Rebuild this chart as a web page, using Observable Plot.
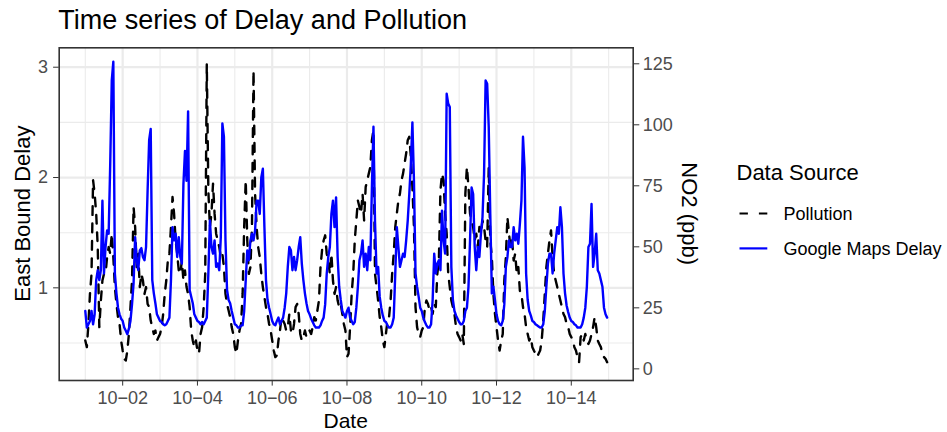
<!DOCTYPE html>
<html><head><meta charset="utf-8">
<script src="https://cdn.jsdelivr.net/npm/d3@7"></script>
<script src="https://cdn.jsdelivr.net/npm/@observablehq/plot@0.6"></script>
<style>
body{margin:0;background:#fff;}
#chart{position:relative;width:947px;height:432px;overflow:hidden;}
#chart svg{position:absolute;left:0;top:0;}
</style>
</head><body><div id="chart"></div>
<script>
// ---------- data ----------
const titleText = "Time series of Delay and Pollution";
const xTitle = "Date";
const yTitle = "East Bound Delay";
const y2Title = "NO2 (ppb)";
const legendTitle = "Data Source";
const seriesNames = ["Pollution", "Google Maps Delay"];
const startTime = "2018-10-01T00:00Z"; // hourly readings
// Google Maps delay, hourly, 10-01 .. 10-14
const delayValues = [
 0.79,0.64,0.67,0.70,0.79,0.67,0.76,1.07,1.16,1.07,1.16,1.79,1.13,1.37,1.52,1.49,2.12,2.88,3.05,1.13,0.95,0.82,0.76,0.72,
 0.70,0.64,0.61,0.58,0.63,0.70,0.85,1.04,1.46,1.25,1.16,1.34,1.36,1.28,1.25,1.37,1.88,2.34,2.44,1.07,0.95,0.86,0.76,0.73,
 0.70,0.69,0.67,0.66,0.67,0.70,0.73,1.07,1.55,1.43,1.49,1.28,1.46,1.28,1.22,1.94,2.24,1.97,2.60,0.98,0.92,0.86,0.76,0.73,
 0.70,0.69,0.67,0.69,0.67,0.70,0.73,1.13,1.61,1.37,1.31,1.43,1.19,1.22,1.16,1.46,2.49,2.37,1.43,0.98,0.89,0.86,0.79,0.73,
 0.67,0.66,0.64,0.64,0.66,0.66,0.79,1.07,1.34,1.25,1.43,1.49,1.43,1.52,1.79,1.79,1.67,2.00,2.08,1.55,1.07,0.89,0.82,0.76,
 0.70,0.67,0.66,0.70,0.73,0.67,0.70,0.73,0.82,0.95,1.19,1.37,1.34,1.16,1.28,1.16,1.25,1.37,1.46,1.22,1.07,0.95,0.86,0.79,
 0.76,0.72,0.69,0.66,0.64,0.64,0.64,0.66,0.70,0.73,0.85,1.13,1.28,1.37,1.67,1.79,1.55,1.82,1.28,1.01,0.89,0.79,0.76,0.73,
 0.79,0.82,0.73,0.70,0.67,0.69,0.82,1.01,1.25,1.31,1.43,1.19,1.31,1.16,1.37,1.25,1.91,2.46,1.60,1.13,1.19,0.92,0.82,0.75,
 0.70,0.69,0.66,0.64,0.64,0.67,0.73,1.13,1.55,1.37,1.19,1.25,1.31,1.28,1.43,1.61,1.85,2.12,2.50,1.97,1.13,1.01,0.92,0.82,
 0.79,0.73,0.69,0.66,0.64,0.64,0.67,0.89,1.31,1.13,1.22,1.25,1.16,1.70,1.43,1.31,2.76,2.67,2.64,1.19,0.89,0.79,0.75,0.72,
 0.69,0.67,0.67,0.70,0.79,0.82,1.01,1.43,1.91,1.85,1.37,1.16,1.37,1.28,1.49,1.64,2.03,2.88,2.85,2.46,1.67,0.95,1.01,0.89,
 0.76,0.70,0.67,0.66,0.70,0.85,1.19,1.28,1.43,1.37,1.37,1.55,1.43,1.49,1.40,1.58,1.79,2.37,2.09,1.13,0.89,0.79,0.75,0.70,
 0.69,0.67,0.66,0.65,0.64,0.64,0.67,0.79,1.01,1.22,1.31,1.31,1.13,1.31,1.43,1.55,1.49,1.73,1.55,1.13,0.95,0.84,0.78,0.73,
 0.70,0.69,0.67,0.66,0.64,0.64,0.64,0.67,0.73,0.82,1.01,1.37,1.40,1.76,1.19,1.31,1.49,1.16,1.13,1.07,1.01,0.82,0.76,0.73
];
// NO2 pollution (ppb), hourly, 10-01 .. 10-14
const no2Values = [
 11.6,8.9,18.4,30.7,38.9,77.3,71.8,63.6,49.9,17.1,28.0,36.2,38.9,38.9,45.8,49.9,47.2,55.4,45.8,33.5,26.6,21.2,18.4,11.6,
 7.5,4.1,3.4,7.5,14.3,25.3,36.2,66.3,58.1,41.7,47.2,33.5,38.9,36.2,30.7,33.5,26.6,25.3,19.8,17.1,14.3,15.7,11.6,13.0,
 14.3,17.1,22.5,30.7,36.2,44.4,47.2,58.1,70.4,63.6,52.6,47.2,40.3,38.9,44.4,36.2,40.3,33.5,30.7,25.3,15.7,11.6,8.9,11.6,
 7.5,6.2,14.3,17.1,25.3,38.9,125.0,73.1,58.1,63.6,75.9,63.6,55.4,52.6,49.9,45.8,47.2,41.7,30.7,26.6,23.9,21.2,17.1,14.3,
 8.9,6.2,11.6,15.7,18.4,30.7,58.1,77.3,52.6,38.9,41.7,58.1,122.3,71.8,58.1,49.9,45.8,38.9,33.5,29.4,25.3,22.5,18.4,15.7,
 11.6,7.5,4.8,5.5,11.6,15.7,21.2,19.8,18.4,15.7,17.1,22.5,15.7,14.3,18.4,25.3,26.6,22.5,14.3,11.6,13.0,15.7,13.0,14.3,
 15.7,14.3,17.1,21.2,19.8,23.9,28.0,41.7,48.6,52.6,54.7,47.2,44.4,38.9,47.2,36.2,30.7,33.5,28.0,25.3,26.6,22.5,18.4,15.7,
 4.8,6.2,17.1,30.7,38.9,52.6,60.8,69.0,66.3,63.6,71.8,60.8,74.5,77.3,80.0,82.8,93.7,97.8,38.9,33.5,28.0,21.2,17.1,11.6,
 8.9,14.3,19.8,21.2,28.0,38.9,47.2,58.1,63.6,69.0,71.8,77.3,80.0,84.2,88.3,93.7,95.1,86.9,74.5,58.1,25.3,17.1,14.3,13.0,
 15.7,17.1,25.3,28.0,26.6,23.9,25.3,22.5,26.6,25.3,38.9,44.4,73.1,80.0,77.3,63.6,55.4,38.9,33.5,28.0,25.3,22.5,17.1,14.3,
 13.0,11.6,14.3,10.2,71.8,82.8,74.5,63.6,60.8,58.1,52.6,55.4,49.9,58.1,55.4,60.8,58.1,52.6,49.9,82.8,52.6,45.8,30.7,22.5,
 17.1,11.6,7.5,11.6,14.3,36.2,45.8,62.2,55.4,49.9,52.6,44.4,47.2,38.9,41.7,32.0,30.7,25.3,22.5,17.1,14.3,11.6,13.0,8.9,
 7.5,6.2,4.8,6.2,7.5,11.6,19.8,30.7,41.7,47.2,52.6,56.7,45.8,38.9,36.2,33.5,30.7,28.0,25.3,22.5,21.2,18.4,17.1,14.3,
 13.0,11.6,8.9,7.5,4.8,2.7,13.0,14.3,11.6,14.3,11.6,10.2,11.6,14.3,17.1,21.2,17.1,11.6,10.2,8.9,6.2,4.8,4.1,2.7
];
const xTickDates = ["2018-10-02","2018-10-04","2018-10-06","2018-10-08","2018-10-10","2018-10-12","2018-10-14"];
const xTickLabels = ["10\u221202","10\u221204","10\u221206","10\u221208","10\u221210","10\u221212","10\u221214"];
const xMinorDates = ["2018-10-01","2018-10-03","2018-10-05","2018-10-07","2018-10-09","2018-10-11","2018-10-13","2018-10-15"];
const yTicks = [1, 2, 3];
const yMinor = [0.5, 1.5, 2.5];
const y2Ticks = [0, 25, 50, 75, 100, 125];

// ---------- secondary axis transform ----------
const OFFSET = 0.2656, SCALE = 45.2;
const toDelay = n => OFFSET + n / SCALE;
const toNO2 = d => (d - OFFSET) * SCALE;

const HOUR = 3600e3;
const t0 = new Date(startTime);
const day = s => new Date(s + "T00:00Z");
const delayRows = delayValues.map((v, i) => ({date: new Date(+t0 + i * HOUR), value: v, source: seriesNames[1]}));
const pollRows = no2Values.map((v, i) => ({date: new Date(+t0 + i * HOUR), value: toDelay(v), source: seriesNames[0]}));
const nH = delayValues.length - 1;
const pad = nH * 0.05;

const W = 947, H = 432;
const mL = 58.7, mR = W - 632.7, mT = 47.3, mB = H - 380;
const font = "'Liberation Sans', Arial, Helvetica, sans-serif";
const tickColor = "#333333", labColor = "#4D4D4D", gridColor = "#EBEBEB";
const dateTicks = xTickDates.map(day);

const chart = Plot.plot({
  width: W, height: H,
  marginLeft: mL, marginRight: mR, marginTop: mT, marginBottom: mB,
  style: {fontFamily: font, fontSize: "18px", background: "white", color: labColor, overflow: "visible"},
  x: {type: "utc", domain: [new Date(+t0 - pad * HOUR), new Date(+t0 + (nH + pad) * HOUR)]},
  y: {domain: [0.160, 3.176]},
  marks: [
    Plot.gridX(xMinorDates.map(day), {stroke: gridColor, strokeOpacity: 1, strokeWidth: 1.1}),
    Plot.gridY(yMinor, {stroke: gridColor, strokeOpacity: 1, strokeWidth: 1.1}),
    Plot.gridX(dateTicks, {stroke: gridColor, strokeOpacity: 1, strokeWidth: 2.2}),
    Plot.gridY(yTicks, {stroke: gridColor, strokeOpacity: 1, strokeWidth: 2.2}),
    Plot.line(pollRows, {x: "date", y: "value", stroke: "black", strokeWidth: 2.4, strokeDasharray: "8.7,8.7"}),
    Plot.line(delayRows, {x: "date", y: "value", stroke: "blue", strokeWidth: 2.4}),
    Plot.frame({stroke: tickColor, strokeWidth: 1.6}),
    Plot.axisX(dateTicks, {anchor: "bottom", tickSize: 5.6, tickPadding: 5, stroke: tickColor, fill: labColor,
      fontSize: 18, label: null, tickFormat: d => xTickLabels[dateTicks.findIndex(t => +t === +d)]}),
    Plot.axisY(yTicks, {anchor: "left", tickSize: 5.6, tickPadding: 5.5, stroke: tickColor, fill: labColor,
      fontSize: 18, label: null, tickFormat: d => String(d)}),
    Plot.axisY(y2Ticks.map(toDelay), {anchor: "right", tickSize: 5.6, tickPadding: 4, stroke: tickColor, fill: labColor,
      fontSize: 18, label: null, tickFormat: d => String(Math.round(toNO2(d)))})
  ]
});
document.getElementById("chart").appendChild(chart);

// ---------- titles and legend overlay ----------
const ns = "http://www.w3.org/2000/svg";
const ov = document.createElementNS(ns, "svg");
ov.setAttribute("width", W); ov.setAttribute("height", H);
ov.style.fontFamily = font;
function txt(s, x, y, size, opts = {}) {
  const t = document.createElementNS(ns, "text");
  t.setAttribute("x", x); t.setAttribute("y", y);
  t.setAttribute("font-size", size);
  t.setAttribute("fill", opts.fill || "black");
  if (opts.anchor) t.setAttribute("text-anchor", opts.anchor);
  if (opts.rotate) t.setAttribute("transform", `rotate(${opts.rotate} ${x} ${y})`);
  t.textContent = s; ov.appendChild(t);
}
function ln(x1, x2, y, color, dash) {
  const l = document.createElementNS(ns, "line");
  l.setAttribute("x1", x1); l.setAttribute("x2", x2); l.setAttribute("y1", y); l.setAttribute("y2", y);
  l.setAttribute("stroke", color); l.setAttribute("stroke-width", 2.2);
  if (dash) l.setAttribute("stroke-dasharray", dash);
  ov.appendChild(l);
}
txt(titleText, 58.3, 29, 27);
txt(xTitle, (mL + 632.7) / 2, 427.5, 21, {anchor: "middle"});
txt(yTitle, 30, (mT + 380) / 2, 22, {anchor: "middle", rotate: -90});
txt(y2Title, 681.5, (mT + 380) / 2, 22, {anchor: "middle", rotate: 90});
txt(legendTitle, 736.5, 180, 22);
ln(739.5, 767.3, 213.5, "black", "8.4,11");
txt(seriesNames[0], 783.4, 220, 18);
ln(739.5, 767.3, 248.4, "blue");
txt(seriesNames[1], 783.4, 254.8, 18);
document.getElementById("chart").appendChild(ov);
</script>
</body></html>
